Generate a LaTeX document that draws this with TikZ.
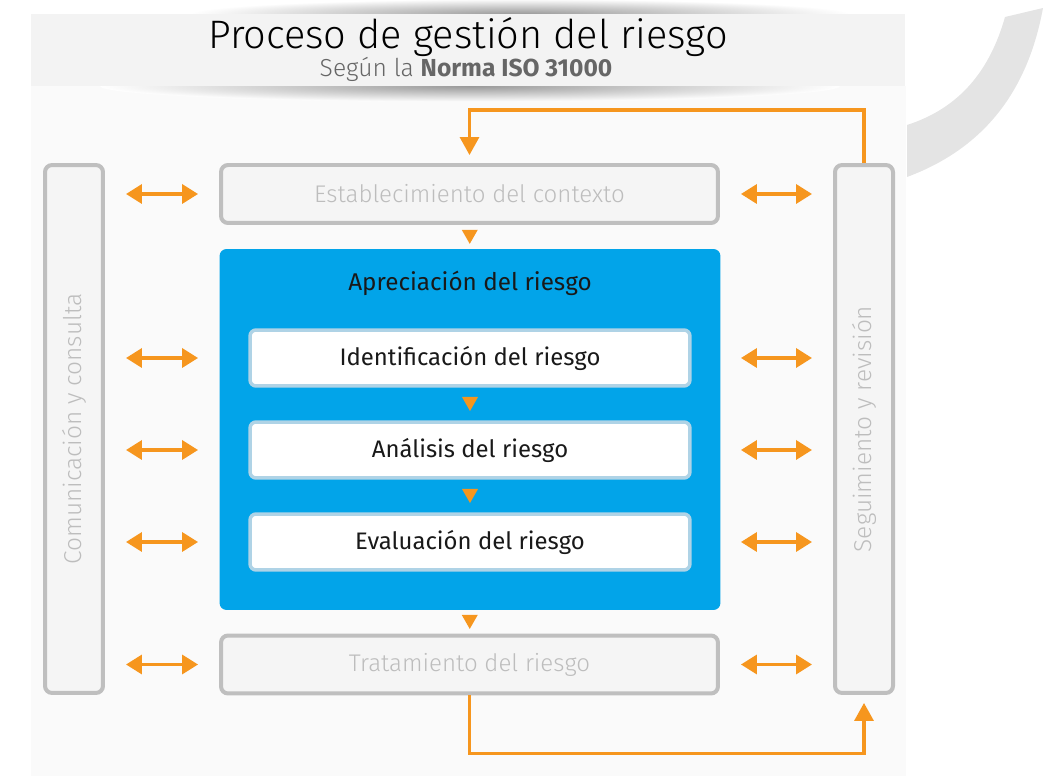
\documentclass[tikz,border=0pt]{standalone}
\usepackage{fontspec}
\setmainfont{Fira Sans}
\newfontfamily\lightfont{Fira Sans Light}
\usetikzlibrary{positioning,arrows.meta,calc}

\definecolor{arrowor}{HTML}{F6961E}
\definecolor{riskblue}{HTML}{02A4E9}
\definecolor{innerline}{HTML}{AFD3E6}
\definecolor{boxline}{HTML}{BFBFBF}
\definecolor{boxfill}{HTML}{F5F5F5}
\definecolor{softtext}{HTML}{BDBDBD}
\definecolor{bandfill}{HTML}{F3F3F3}
\definecolor{markgrey}{HTML}{E4E4E4}

% small orange tip between two stacked boxes
\newcommand{\downtip}[2]{%
  \fill[arrowor] ($(#1.south)!0.5!(#2.north)+(-8,-7)$) -- ++(16,0) -- ++(-8,14) -- cycle;}

\begin{document}
\begin{tikzpicture}[x=0.02cm, y=-0.02cm,
    greybox/.style={draw=boxline, line width=0.08cm, fill=boxfill, rounded corners=0.14cm,
        text=softtext, font=\lightfont\fontsize{13.7}{16}\selectfont, inner sep=0pt},
    sidetext/.style={rotate=90, text=softtext, font=\lightfont\fontsize{13.9}{16}\selectfont},
    stepbox/.style={draw=innerline, line width=0.07cm, fill=white, rounded corners=0.12cm,
        minimum width=8.8cm, minimum height=1.12cm, text=black!90,
        font=\fontsize{13.6}{16}\selectfont},
    twoway/.style={arrowor, line width=0.07cm, shorten <=0.42cm, shorten >=0.42cm,
        {Triangle[length=0.32cm,width=0.38cm]}-{Triangle[length=0.32cm,width=0.38cm]}},
    feedback/.style={arrowor, line width=0.065cm, shorten >=0.16cm,
        -{Triangle[length=0.36cm,width=0.38cm]}}]

    \useasboundingbox (0,0) rectangle (1045,776);

    % background, watermark and title band
    \fill[black!2] (31,86) rectangle (906,776);
    \fill[markgrey] (1005,17) .. controls (990,70) and (960,108) .. (907,125)
        -- (907,177) .. controls (985,148) and (1028,90) .. (1043,8) -- cycle;
    \shade[inner color=gray!80, outer color=white] (520,14) ellipse (330 and 15);
    \shade[inner color=gray!80, outer color=white] (470,86) ellipse (370 and 16);
    \fill[bandfill] (31,14) rectangle (905,86);

    \node[font=\lightfont\fontsize{22.6}{26}\selectfont] (title) at (468,37) {Proceso de gestión del riesgo};
    \node[font=\lightfont\fontsize{14}{16}\selectfont, text=black!60] (subtitle) at (466,69)
        {Según la {\normalfont\bfseries Norma ISO 31000}};

    % side boxes
    \node[greybox, minimum width=1.16cm, minimum height=10.56cm] (com) at (74,429) {};
    \node[sidetext] (comtext) at (com) {Comunicación y consulta};
    \node[greybox, minimum width=1.16cm, minimum height=10.56cm] (seg) at (864,429) {};
    \node[sidetext] (segtext) at (seg) {Seguimiento y revisión};

    % main column
    \node[greybox, minimum width=9.94cm, minimum height=1.16cm] (ctx) at (469.5,194) {Establecimiento del contexto};
    \node[fill=riskblue, rounded corners=0.14cm, minimum width=10.02cm, minimum height=7.22cm] (apre) at (470,429.5) {};
    \node[text=black!90, font=\fontsize{13.8}{16}\selectfont] (apretitle) at (470,283) {Apreciación del riesgo};
    \node[stepbox] (ident) at (470,358) {Identificación del riesgo};
    \node[stepbox] (anal) at (470,450) {Análisis del riesgo};
    \node[stepbox] (eval) at (470,542) {Evaluación del riesgo};
    \node[greybox, minimum width=9.94cm, minimum height=1.16cm] (trat) at (469.5,664.5) {Tratamiento del riesgo};

    \downtip{ctx}{apre}
    \downtip{ident}{anal}
    \downtip{anal}{eval}
    \downtip{apre}{trat}

    % two-way arrows to the side boxes
    \foreach \row in {ctx, ident, anal, eval, trat} {
        \draw[twoway] (com.east |- \row) -- (ctx.west |- \row);
        \draw[twoway] (ctx.east |- \row) -- (seg.west |- \row);
    }

    % feedback loops
    \draw[feedback] (seg.north) -- ++(0,-53) -| (ctx.north);
    \draw[feedback] (trat.south) -- ++(0,58) -| (seg.south);

\end{tikzpicture}
\end{document}
